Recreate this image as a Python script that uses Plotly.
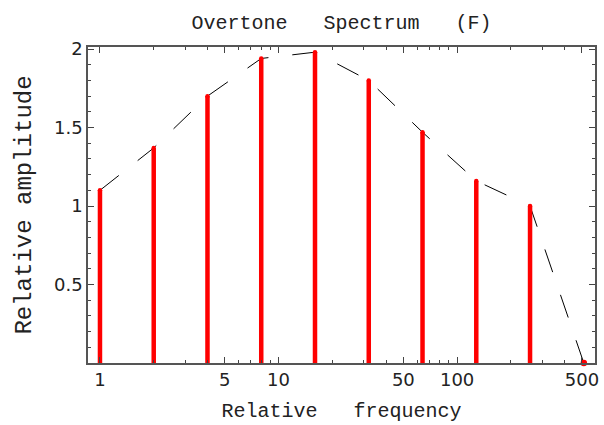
import plotly.graph_objects as go

freqs = [1, 2, 4, 8, 16, 32, 64, 128, 256, 512]
amps = [1.10, 1.37, 1.70, 1.94, 1.98, 1.80, 1.47, 1.16, 1.00, 0.0]

x_tickvals = [1, 5, 10, 50, 100, 500]
x_ticktext = ["1", "5", "10", "50", "100", "500"]
y_tickvals = [0.5, 1, 1.5, 2]
y_ticktext = ["0.5", "1", "1.5", "2"]

# minor ticks
x_minor = [m * 10 ** d for d in range(0, 3) for m in range(1, 10)] + [600]
y_minor = [i / 10 for i in range(0, 21)]

bx, by = [], []
for f, a in zip(freqs, amps):
    bx += [f, f, None]
    by += [0, a, None]

fig = go.Figure()
fig.add_trace(go.Scatter(x=freqs, y=amps, mode="lines",
                         line=dict(color="black", width=1, dash="24px,24px"),
                         hoverinfo="skip"))
fig.add_trace(go.Scatter(x=bx, y=by, mode="lines",
                         line=dict(color="#ff0000", width=4.5)))
tx = [f for f, a in zip(freqs, amps) if a > 0]
ty = [a for a in amps if a > 0]
fig.add_trace(go.Scatter(x=tx, y=ty, mode="markers",
                         marker=dict(color="#ff0000", size=4.5, line=dict(width=0))))
zx = [f for f, a in zip(freqs, amps) if a == 0]
zy = [a for a in amps if a == 0]
fig.add_trace(go.Scatter(x=zx, y=zy, mode="markers",
                         marker=dict(color="#ff0000", size=6.5, line=dict(width=0)),
                         cliponaxis=False))

mono = "Liberation Mono, Courier New, monospace"
sp = "\u00a0\u00a0\u00a0"

fig.update_layout(
    width=604, height=425,
    margin=dict(l=88, r=5, t=47, b=62),
    paper_bgcolor="white", plot_bgcolor="white",
    showlegend=False,
    title=dict(text="Overtone" + sp + "Spectrum" + sp + "(F)",
               font=dict(family=mono, size=20, color="#222"),
               x=0.5, xanchor="center", xref="paper", y=0.948, yanchor="middle"),
    font=dict(family="DejaVu Sans", size=18, color="#222"),
)
fig.update_xaxes(
    type="log", range=[-0.067, 2.772],
    tickmode="array", tickvals=x_tickvals, ticktext=x_ticktext,
    ticks="inside", ticklen=6, tickwidth=1, tickcolor="#444",
    minor=dict(tickmode="array", tickvals=x_minor, ticks="inside", ticklen=3,
               tickcolor="#444", showgrid=False),
    showline=True, linecolor="#555", linewidth=1.5, mirror="ticks",
    showgrid=False, zeroline=False,
    tickfont=dict(family="DejaVu Sans", size=18, color="#222"),
    title=dict(text="Relative" + sp + "frequency\u00a0",
               font=dict(family=mono, size=20, color="#222"), standoff=14),
)
fig.update_yaxes(
    range=[0, 2.013],
    tickmode="array", tickvals=y_tickvals, ticktext=y_ticktext,
    ticks="inside", ticklen=6, tickwidth=1, tickcolor="#444",
    minor=dict(tickmode="array", tickvals=y_minor, ticks="inside", ticklen=3,
               tickcolor="#444", showgrid=False),
    showline=True, linecolor="#555", linewidth=1.5, mirror="ticks",
    showgrid=False, zeroline=False,
    tickfont=dict(family="DejaVu Sans", size=18, color="#222"),
    title=dict(text="Relative amplitude",
               font=dict(family=mono, size=24, color="#222"), standoff=16),
)

fig.write_html("out.html")
